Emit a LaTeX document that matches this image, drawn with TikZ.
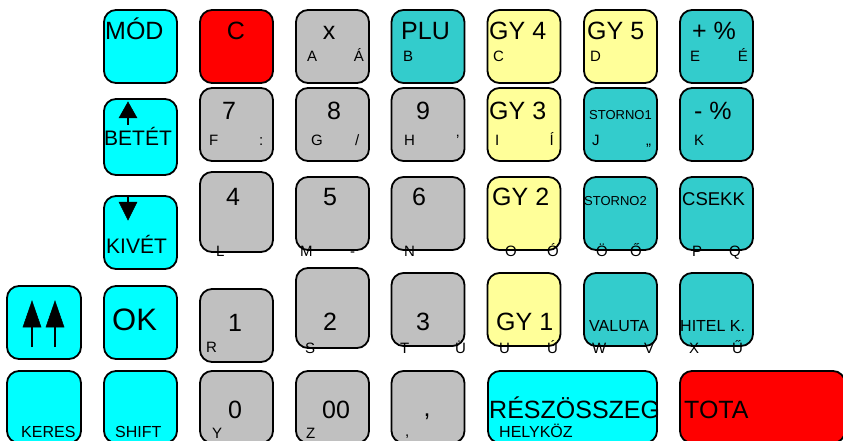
\documentclass[tikz,border=0pt]{standalone}
\usepackage{fontspec}
\setmainfont{Liberation Sans}
\definecolor{kcyan}{HTML}{00FFFF}
\definecolor{kteal}{HTML}{33CCCC}
\definecolor{kred}{HTML}{FF0000}
\definecolor{kgray}{HTML}{C0C0C0}
\definecolor{kyellow}{HTML}{FFFF99}
\begin{document}
\begin{tikzpicture}[x=1pt,y=-1pt,
  key/.style={draw=black, line width=1.8pt, rounded corners=12pt, inner sep=0pt,
    minimum width=73pt, minimum height=73pt},
  tb/.style={inner sep=0pt, font=\fontsize{25}{30}\selectfont},
  tok/.style={inner sep=0pt, font=\fontsize{31}{36}\selectfont},
  tm/.style={inner sep=0pt, font=\fontsize{21}{25}\selectfont},
  tc/.style={inner sep=0pt, font=\fontsize{18.5}{22}\selectfont},
  tl/.style={inner sep=0pt, font=\fontsize{16}{19}\selectfont},
  ts/.style={inner sep=0pt, font=\fontsize{15}{18}\selectfont},
  tst/.style={inner sep=0pt, font=\fontsize{13}{16}\selectfont},
  arr/.style={fill=black, draw=black, line width=0.5pt},
  shaft/.style={draw=black, line width=2pt}]
\useasboundingbox (0,0) rectangle (843,441);
\clip (0,0) rectangle (843,441);
% ---------- keys ----------
% row 0
\node[key, fill=kcyan]   (kMOD)  at (140.5,46.5) {};
\node[key, fill=kred]    (kC)    at (236.5,46.5) {};
\node[key, fill=kgray]   (kX)    at (332.5,46.5) {};
\node[key, fill=kteal]   (kPLU)  at (428,46.5) {};
\node[key, fill=kyellow] (kGYa)  at (524,46.5) {};
\node[key, fill=kyellow] (kGYb)  at (620.5,46.5) {};
\node[key, fill=kteal]   (kPP)   at (716.5,46.5) {};
% row 1
\node[key, fill=kcyan, minimum height=76pt] (kBET) at (140.5,137) {};
\node[key, fill=kgray]   (k7)    at (236.5,124.5) {};
\node[key, fill=kgray]   (k8)    at (332.5,124.5) {};
\node[key, fill=kgray]   (k9)    at (428,124.5) {};
\node[key, fill=kyellow] (kGYc)  at (524,124.5) {};
\node[key, fill=kteal]   (kSTa)  at (620.5,124.5) {};
\node[key, fill=kteal]   (kMP)   at (716.5,124.5) {};
% row 2
\node[key, fill=kcyan]   (kKIV)  at (140.5,232.5) {};
\node[key, fill=kgray, minimum height=80pt] (k4) at (236.5,212) {};
\node[key, fill=kgray]   (k5)    at (332.5,213.5) {};
\node[key, fill=kgray]   (k6)    at (428,213.5) {};
\node[key, fill=kyellow] (kGYd)  at (524,213.5) {};
\node[key, fill=kteal]   (kSTb)  at (620.5,213.5) {};
\node[key, fill=kteal]   (kCS)   at (716.5,213.5) {};
% row 3
\node[key, fill=kcyan, minimum width=74pt] (kUU) at (44,322.5) {};
\node[key, fill=kcyan]   (kOK)   at (140.5,322.5) {};
\node[key, fill=kgray]   (k1)    at (236.5,325.5) {};
\node[key, fill=kgray, minimum height=80pt] (k2) at (332.5,308) {};
\node[key, fill=kgray]   (k3)    at (428,309.5) {};
\node[key, fill=kyellow] (kGYe)  at (524,309.5) {};
\node[key, fill=kteal]   (kVAL)  at (620.5,309.5) {};
\node[key, fill=kteal]   (kHIT)  at (716.5,309.5) {};
% row 4
\node[key, fill=kcyan, minimum width=74pt, minimum height=72pt] (kKER) at (44,407) {};
\node[key, fill=kcyan, minimum height=72pt] (kSHI) at (140.5,407) {};
\node[key, fill=kgray, minimum height=72pt] (k0)   at (236.5,407) {};
\node[key, fill=kgray, minimum height=72pt] (k00)  at (332.5,407) {};
\node[key, fill=kgray, minimum height=72pt] (kCom) at (428,407) {};
\node[key, fill=kcyan, minimum width=169pt, minimum height=72pt] (kRES) at (572.5,407) {};
\node[key, fill=kred, minimum width=165pt, minimum height=72pt] (kTOT) at (762.5,407) {};
% ---------- arrows ----------
\draw[shaft] (128,125) -- (128,116);
\filldraw[arr] (119,118) -- (137,118) -- (128,102) -- cycle;
\draw[shaft] (128,196) -- (128,204);
\filldraw[arr] (119,202) -- (137,202) -- (128,220) -- cycle;
\draw[shaft] (32,347) -- (32,325);
\filldraw[arr] (23,327) -- (41,327) -- (32,301) -- cycle;
\draw[shaft] (55,347) -- (55,325);
\filldraw[arr] (46,327) -- (64,327) -- (55,301) -- cycle;
% ---------- labels row 0 ----------
\node[tb, anchor=base west] (tMOD) at (105,40) {MÓD};
\node[tb, anchor=base] (tC) at (236,40) {C};
\node[tb, anchor=base] (tX) at (329,40) {x};
\node[ts, anchor=base west] (tA) at (307,62) {A};
\node[ts, anchor=base east] (tAa) at (364,62) {Á};
\node[tb, anchor=base west] (tPLU) at (401,40) {PLU};
\node[ts, anchor=base west] (tB) at (403,62) {B};
\node[tb, anchor=base west] (tGYa) at (489,40) {GY 4};
\node[ts, anchor=base west] (tCc) at (493,62) {C};
\node[tb, anchor=base west] (tGYb) at (587,40) {GY 5};
\node[ts, anchor=base west] (tD) at (590,62) {D};
\node[tb, anchor=base west] (tPP) at (692,40) {+ \%};
\node[ts, anchor=base west] (tE) at (690,62) {E};
\node[ts, anchor=base east] (tEe) at (748,62) {É};
% ---------- labels row 1 ----------
\node[tm, anchor=base west] (tBET) at (104,146) {BETÉT};
\node[tb, anchor=base] (t7) at (229,120) {7};
\node[ts, anchor=base west] (tF) at (209,146) {F};
\node[ts, anchor=base west] (tCol) at (259,146) {:};
\node[tb, anchor=base] (t8) at (334,120) {8};
\node[ts, anchor=base west] (tG) at (311,146) {G};
\node[ts, anchor=base west] (tSl) at (355,146) {/};
\node[tb, anchor=base] (t9) at (423,120) {9};
\node[ts, anchor=base west] (tH) at (404,146) {H};
\node[ts, anchor=base west] (tAp) at (456,146) {’};
\node[tb, anchor=base west] (tGYc) at (489,120) {GY 3};
\node[ts, anchor=base west] (tI) at (495,146) {I};
\node[ts, anchor=base east] (tIi) at (554,146) {Í};
\node[tst, anchor=base west] (tSTa) at (589,120) {STORNO1};
\node[ts, anchor=base west] (tJ) at (592,146) {J};
\node[ts, anchor=base west] (tQu) at (646,146) {„};
\node[tb, anchor=base west] (tMP) at (694,120) {- \%};
\node[ts, anchor=base west] (tK) at (694,146) {K};
% ---------- labels row 2 ----------
\node[tm, anchor=base west] (tKIV) at (106,253) {KIVÉT};
\node[tb, anchor=base] (t4) at (233,205) {4};
\node[ts, anchor=base west] (tL) at (216,256) {L};
\node[tb, anchor=base] (t5) at (330,205) {5};
\node[ts, anchor=base west] (tM) at (300,256) {M};
\node[ts, anchor=base west] (tDash) at (350,256) {-};
\node[tb, anchor=base] (t6) at (419,205) {6};
\node[ts, anchor=base west] (tN) at (404,256) {N};
\node[tb, anchor=base west] (tGYd) at (492,205) {GY 2};
\node[ts, anchor=base west] (tO) at (505,256) {O};
\node[ts, anchor=base east] (tOo) at (559,256) {Ó};
\node[tst, anchor=base west] (tSTb) at (584,205) {STORNO2};
\node[ts, anchor=base west] (tOd) at (596,256) {Ö};
\node[ts, anchor=base west] (tOdd) at (630,256) {Ő};
\node[tc, anchor=base west] (tCS) at (682,205) {CSEKK};
\node[ts, anchor=base west] (tP) at (692,256) {P};
\node[ts, anchor=base west] (tQ) at (729,256) {Q};
% ---------- labels row 3 ----------
\node[tok, anchor=base west] (tOK) at (112,330) {OK};
\node[tb, anchor=base] (t1) at (235,331) {1};
\node[ts, anchor=base west] (tR) at (206,352) {R};
\node[tb, anchor=base] (t2) at (330,330) {2};
\node[ts, anchor=base west] (tS) at (305,353) {S};
\node[tb, anchor=base] (t3) at (423,330) {3};
\node[ts, anchor=base west] (tT) at (400,353) {T};
\node[ts, anchor=base west] (tUu) at (455,353) {Ü};
\node[tb, anchor=base west] (tGYe) at (496,330) {GY 1};
\node[ts, anchor=base west] (tU) at (499,353) {U};
\node[ts, anchor=base west] (tUa) at (547,353) {Ú};
\node[tl, anchor=base west] (tVAL) at (589,331) {VALUTA};
\node[ts, anchor=base west] (tW) at (592,353) {W};
\node[ts, anchor=base west] (tV) at (644,353) {V};
\node[tl, anchor=base west] (tHIT) at (680,331) {HITEL K.};
\node[ts, anchor=base west] (tXx) at (689,353) {X};
\node[ts, anchor=base west] (tUdd) at (732,353) {Ű};
% ---------- labels row 4 ----------
\node[tl, anchor=base west] (tKER) at (21,437) {KERES};
\node[tl, anchor=base west] (tSHI) at (115,437) {SHIFT};
\node[tb, anchor=base] (t0) at (235,418) {0};
\node[ts, anchor=base west] (tY) at (212,438) {Y};
\node[tb, anchor=base] (t00) at (336,418) {00};
\node[ts, anchor=base west] (tZ) at (306,438) {Z};
\node[tb, anchor=base] (tComB) at (427,416) {,};
\node[ts, anchor=base west] (tComS) at (405,436) {,};
\node[tb, anchor=base west] (tRES) at (489,418) {RÉSZÖSSZEG};
\node[tl, anchor=base west] (tHEL) at (499,437) {HELYKÖZ};
\node[tb, anchor=base west] (tTOT) at (684,418) {TOTA};
\end{tikzpicture}
\end{document}
